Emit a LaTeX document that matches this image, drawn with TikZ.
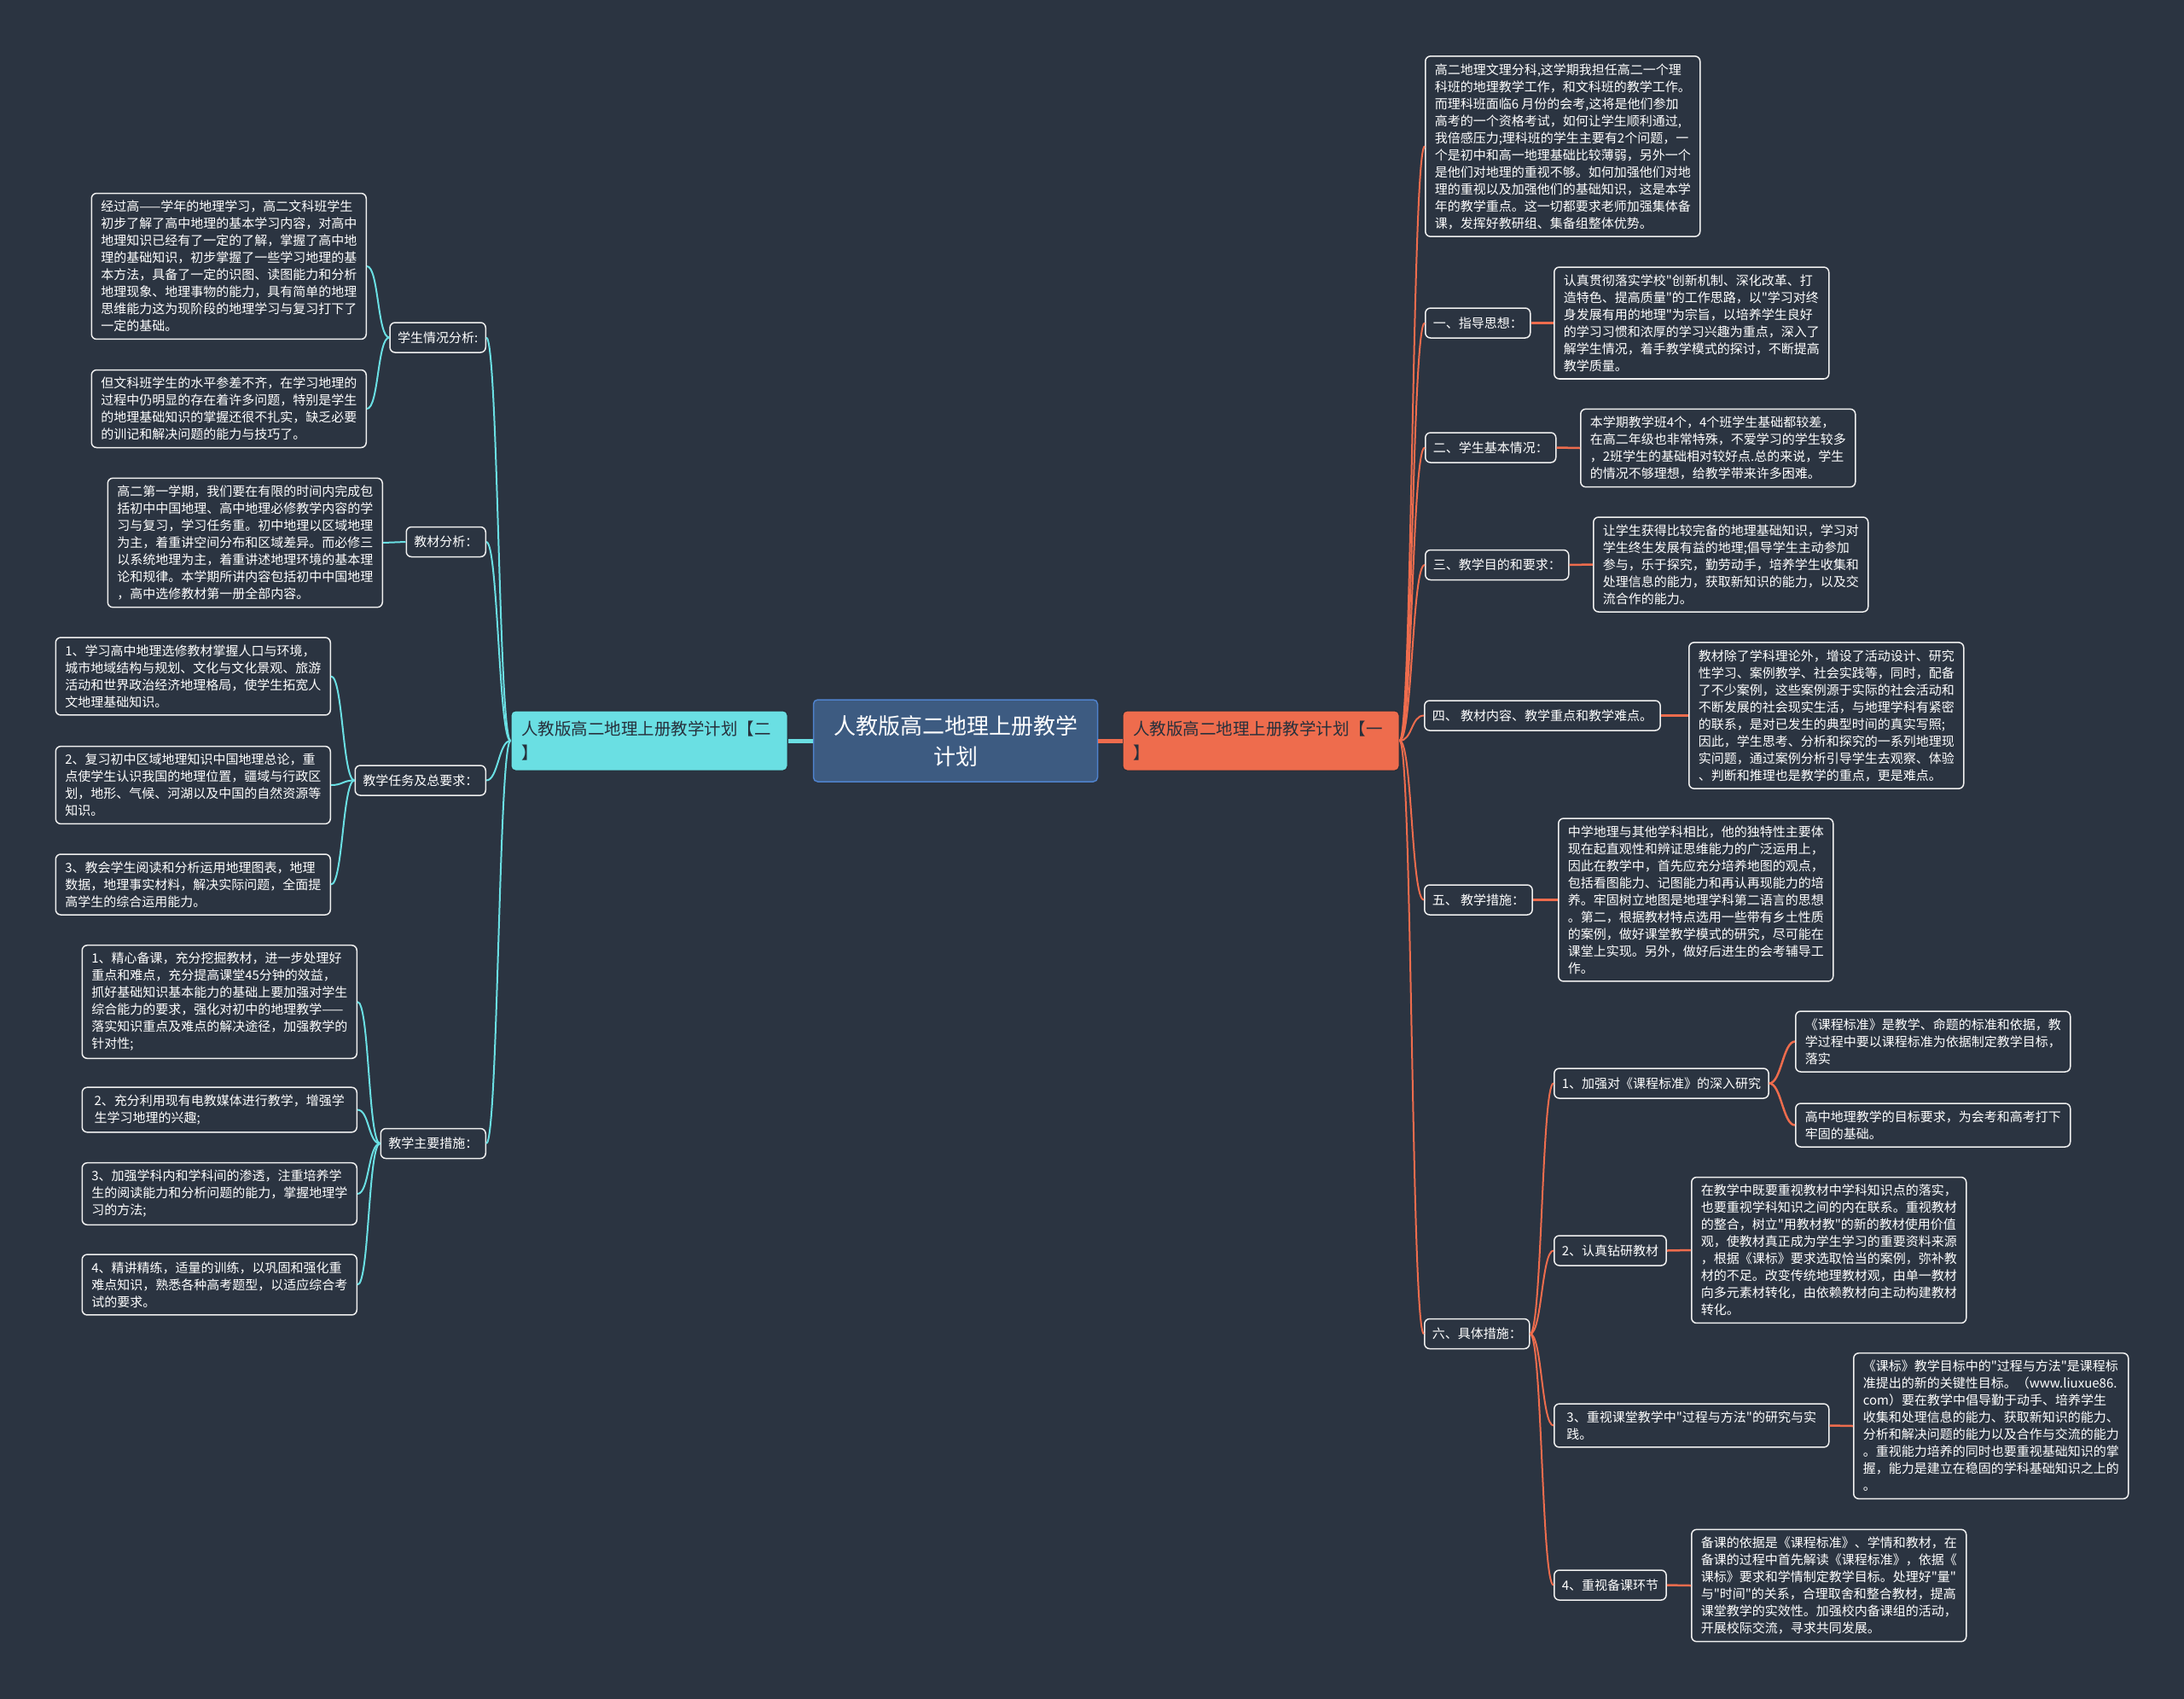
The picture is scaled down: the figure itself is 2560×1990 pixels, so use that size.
\documentclass[tikz,border=0pt]{standalone}
\usepackage{fontspec}
\setmainfont{Noto Sans CJK SC}[Ligatures=TeXOff]
\definecolor{cbg}{HTML}{2B3441}
\definecolor{ccyan}{HTML}{6ADFE3}
\definecolor{corange}{HTML}{EE6C4D}
\definecolor{croot}{HTML}{3D5B81}
\definecolor{crootline}{HTML}{4F82CC}
\definecolor{cink}{HTML}{27303C}
\newcommand\leaffont{\fontsize{15}{20}\selectfont}
\tikzset{
  root/.style={fill=croot, draw=crootline, line width=1.5pt, rounded corners=5pt, text=white, align=center,
    minimum width=333pt, minimum height=96pt, font=\fontsize{26}{36}\selectfont},
  branch/.style={fill=#1, draw=cbg!80!black, line width=1pt, rounded corners=5pt, text=cink, align=left,
    text width=300pt, inner xsep=12pt, minimum height=70pt, font=\fontsize{19.5}{28}\selectfont},
  tag/.style={draw=white!94!black, fill=cbg, text=white, line width=1.5pt, rounded corners=6pt, align=left,
    inner xsep=9pt, inner ysep=9pt, minimum height=35pt, font=\leaffont},
  leaf/.style={tag, minimum width=#1, inner ysep=8.5pt},
  leaf/.default=322pt,
  link/.style={draw=#1, line width=2pt},
}
\begin{document}
\begin{tikzpicture}[x=1pt, y=-1pt]
  \useasboundingbox (0,0) rectangle (2560,1990);
  \fill[cbg] (-6,-6) rectangle (2566,1996);
  \node[root] (root) at (1120,868) {人教版高二地理上册教学\\计划};
  \node[branch=ccyan] (lft) at (761,868) {人教版高二地理上册教学计划【二\\】};
  \node[branch=corange] (rgt) at (1478,868) {人教版高二地理上册教学计划【一\\】};
  \node[tag, anchor=east] (stu)  at (570,395.5) {学生情况分析:};
  \node[tag, anchor=east] (mat)  at (570,635)   {教材分析：};
  \node[tag, anchor=east] (task) at (570,914.5) {教学任务及总要求：};
  \node[tag, anchor=east] (meas) at (570,1340)  {教学主要措施：};
  \node[leaf, anchor=east] (stu1) at (430,312) {经过高——学年的地理学习，高二文科班学生\\初步了解了高中地理的基本学习内容，对高中\\地理知识已经有了一定的了解，掌握了高中地\\理的基础知识，初步掌握了一些学习地理的基\\本方法，具备了一定的识图、读图能力和分析\\地理现象、地理事物的能力，具有简单的地理\\思维能力这为现阶段的地理学习与复习打下了\\一定的基础。};
  \node[leaf, anchor=east] (stu2) at (430,479) {但文科班学生的水平参差不齐，在学习地理的\\过程中仍明显的存在着许多问题，特别是学生\\的地理基础知识的掌握还很不扎实，缺乏必要\\的训记和解决问题的能力与技巧了。};
  \node[leaf, anchor=east] (mat1) at (449,636) {高二第一学期，我们要在有限的时间内完成包\\括初中中国地理、高中地理必修教学内容的学\\习与复习，学习任务重。初中地理以区域地理\\为主，着重讲空间分布和区域差异。而必修三\\以系统地理为主，着重讲述地理环境的基本理\\论和规律。本学期所讲内容包括初中中国地理\\，高中选修教材第一册全部内容。};
  \node[leaf, anchor=east] (task1) at (388,792.5) {1、学习高中地理选修教材掌握人口与环境，\\城市地域结构与规划、文化与文化景观、旅游\\活动和世界政治经济地理格局，使学生拓宽人\\文地理基础知识。};
  \node[leaf, anchor=east] (task2) at (388,920) {2、复习初中区域地理知识中国地理总论，重\\点使学生认识我国的地理位置，疆域与行政区\\划，地形、气候、河湖以及中国的自然资源等\\知识。};
  \node[leaf, anchor=east] (task3) at (388,1036.5) {3、教会学生阅读和分析运用地理图表，地理\\数据，地理事实材料，解决实际问题，全面提\\高学生的综合运用能力。};
  \node[leaf, anchor=east] (meas1) at (419,1174) {1、精心备课，充分挖掘教材，进一步处理好\\重点和难点，充分提高课堂45分钟的效益，\\抓好基础知识基本能力的基础上要加强对学生\\综合能力的要求，强化对初中的地理教学——\\落实知识重点及难点的解决途径，加强教学的\\针对性;};
  \node[leaf, anchor=east] (meas2) at (419,1300.5) {2、充分利用现有电教媒体进行教学，增强学\\生学习地理的兴趣;};
  \node[leaf, anchor=east] (meas3) at (419,1399) {3、加强学科内和学科间的渗透，注重培养学\\生的阅读能力和分析问题的能力，掌握地理学\\习的方法;};
  \node[leaf, anchor=east] (meas4) at (419,1505.5) {4、精讲精练，适量的训练，以巩固和强化重\\难点知识，熟悉各种高考题型，以适应综合考\\试的要求。};
  \node[leaf, anchor=west] (intro) at (1670,171.5) {高二地理文理分科,这学期我担任高二一个理\\科班的地理教学工作，和文科班的教学工作。\\而理科班面临6 月份的会考,这将是他们参加\\高考的一个资格考试，如何让学生顺利通过,\\我倍感压力;理科班的学生主要有2个问题，一\\个是初中和高一地理基础比较薄弱，另外一个\\是他们对地理的重视不够。如何加强他们对地\\理的重视以及加强他们的基础知识，这是本学\\年的教学重点。这一切都要求老师加强集体备\\课，发挥好教研组、集备组整体优势。};
  \node[tag, anchor=west] (p1) at (1670,378.5) {一、指导思想：};
  \node[leaf, anchor=west] (p1t) at (1821,378.5) {认真贯彻落实学校"创新机制、深化改革、打\\造特色、提高质量"的工作思路，以"学习对终\\身发展有用的地理"为宗旨，以培养学生良好\\的学习习惯和浓厚的学习兴趣为重点，深入了\\解学生情况，着手教学模式的探讨，不断提高\\教学质量。};
  \node[tag, anchor=west] (p2) at (1670,524.5) {二、学生基本情况：};
  \node[leaf, anchor=west] (p2t) at (1852,525) {本学期教学班4个，4个班学生基础都较差，\\在高二年级也非常特殊，不爱学习的学生较多\\，2班学生的基础相对较好点.总的来说，学生\\的情况不够理想，给教学带来许多困难。};
  \node[tag, anchor=west] (p3) at (1670,662) {三、教学目的和要求：};
  \node[leaf, anchor=west] (p3t) at (1867,661.5) {让学生获得比较完备的地理基础知识，学习对\\学生终生发展有益的地理;倡导学生主动参加\\参与，乐于探究，勤劳动手，培养学生收集和\\处理信息的能力，获取新知识的能力，以及交\\流合作的能力。};
  \node[tag, anchor=west] (p4) at (1669,838.5) {四、 教材内容、教学重点和教学难点。};
  \node[leaf, anchor=west] (p4t) at (1979,838.5) {教材除了学科理论外，增设了活动设计、研究\\性学习、案例教学、社会实践等，同时，配备\\了不少案例，这些案例源于实际的社会活动和\\不断发展的社会现实生活，与地理学科有紧密\\的联系，是对已发生的典型时间的真实写照;\\因此，学生思考、分析和探究的一系列地理现\\实问题，通过案例分析引导学生去观察、体验\\、判断和推理也是教学的重点，更是难点。};
  \node[tag, anchor=west] (p5) at (1669,1054.5) {五、 教学措施：};
  \node[leaf, anchor=west] (p5t) at (1826,1054.5) {中学地理与其他学科相比，他的独特性主要体\\现在起直观性和辨证思维能力的广泛运用上，\\因此在教学中，首先应充分培养地图的观点，\\包括看图能力、记图能力和再认再现能力的培\\养。牢固树立地图是地理学科第二语言的思想\\。第二，根据教材特点选用一些带有乡土性质\\的案例，做好课堂教学模式的研究，尽可能在\\课堂上实现。另外，做好后进生的会考辅导工\\作。};
  \node[tag, anchor=west] (p6) at (1669,1563) {六、具体措施：};
  \node[tag, anchor=west] (q1) at (1821,1269.5) {1、加强对《课程标准》的深入研究};
  \node[leaf, anchor=west] (q1a) at (2104,1220.5) {《课程标准》是教学、命题的标准和依据，教\\学过程中要以课程标准为依据制定教学目标，\\落实};
  \node[leaf, anchor=west] (q1b) at (2104,1318.5) {高中地理教学的目标要求，为会考和高考打下\\牢固的基础。};
  \node[tag, anchor=west] (q2) at (1821,1465.5) {2、认真钻研教材};
  \node[leaf, anchor=west] (q2t) at (1982,1465) {在教学中既要重视教材中学科知识点的落实，\\也要重视学科知识之间的内在联系。重视教材\\的整合，树立"用教材教"的新的教材使用价值\\观，使教材真正成为学生学习的重要资料来源\\，根据《课标》要求选取恰当的案例，弥补教\\材的不足。改变传统地理教材观，由单一教材\\向多元素材转化，由依赖教材向主动构建教材\\转化。};
  \node[leaf, anchor=west] (q3) at (1821,1670.5) {3、重视课堂教学中"过程与方法"的研究与实\\践。};
  \node[leaf, anchor=west] (q3t) at (2172,1671) {《课标》教学目标中的"过程与方法"是课程标\\准提出的新的关键性目标。（www.liuxue86.\\com）要在教学中倡导勤于动手、培养学生\\收集和处理信息的能力、获取新知识的能力、\\分析和解决问题的能力以及合作与交流的能力\\。重视能力培养的同时也要重视基础知识的掌\\握，能力是建立在稳固的学科基础知识之上的\\。};
  \node[tag, anchor=west] (q4) at (1821,1857.5) {4、重视备课环节};
  \node[leaf, anchor=west] (q4t) at (1982,1858) {备课的依据是《课程标准》、学情和教材，在\\备课的过程中首先解读《课程标准》，依据《\\课标》要求和学情制定教学目标。处理好"量"\\与"时间"的关系，合理取舍和整合教材，提高\\课堂教学的实效性。加强校内备课组的活动，\\开展校际交流，寻求共同发展。};
  \draw[link=ccyan, line width=5pt] (root.west) -- (lft.east);
  \draw[link=corange, line width=5pt] (root.east) -- (rgt.west);
  \foreach \n in {stu,mat,task,meas}
    \draw[link=ccyan] (lft.west) .. controls +(-14,0) and +(14,0) .. (\n.east);
  \foreach \a/\b in {stu/stu1,stu/stu2,mat/mat1,task/task1,task/task2,task/task3,meas/meas1,meas/meas2,meas/meas3,meas/meas4}
    \draw[link=ccyan] (\a.west) .. controls +(-14,0) and +(14,0) .. (\b.east);
  \foreach \n in {intro,p1,p2,p3,p4,p5,p6}
    \draw[link=corange] (rgt.east) .. controls +(15,0) and +(-15,0) .. (\n.west);
  \foreach \n in {q1,q2,q3,q4}
    \draw[link=corange] (p6.east) .. controls +(14,0) and +(-14,0) .. (\n.west);
  \foreach \a/\b in {p1/p1t,p2/p2t,p3/p3t,p4/p4t,p5/p5t,q1/q1a,q1/q1b,q2/q2t,q3/q3t,q4/q4t}
    \draw[link=corange, line width=2.5pt] (\a.east) .. controls +(14,0) and +(-14,0) .. (\b.west);
\end{tikzpicture}
\end{document}
